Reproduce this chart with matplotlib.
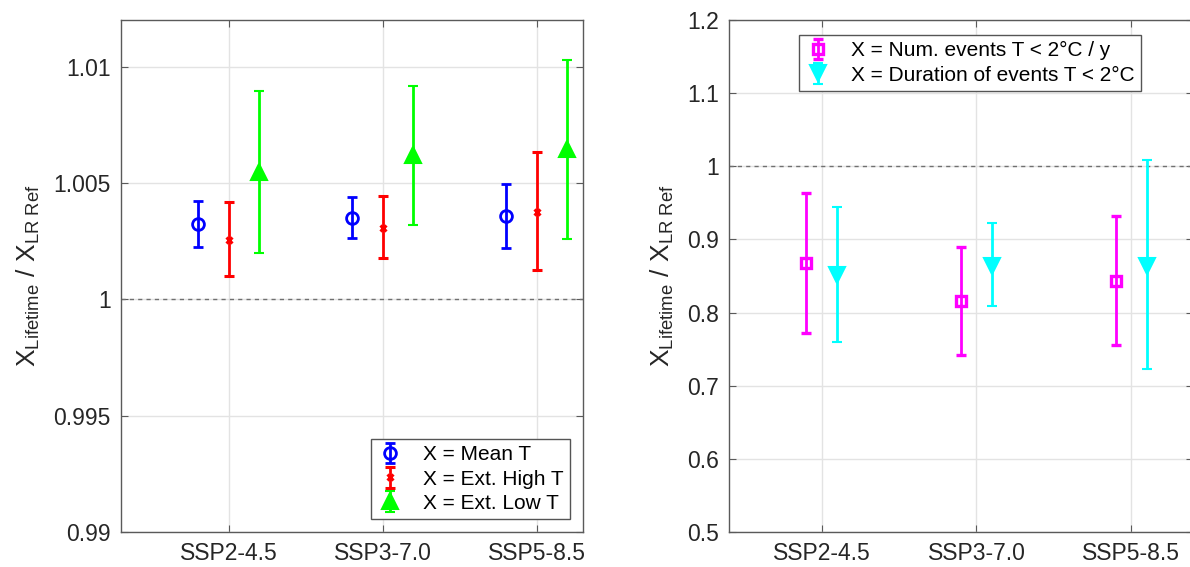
import matplotlib
matplotlib.use("Agg")
import matplotlib.pyplot as plt
from matplotlib.ticker import FuncFormatter
import numpy as np

plt.rcParams['font.family'] = ['Liberation Sans', 'DejaVu Sans']
plt.rcParams['mathtext.fontset'] = 'custom'
plt.rcParams['mathtext.rm'] = 'Liberation Sans'
plt.rcParams['mathtext.it'] = 'Liberation Sans'

scenarios = ["SSP2-4.5", "SSP3-7.0", "SSP5-8.5"]

# Temperature indicators (left panel): central value, lower and upper bound
mean_t = [1.00323, 1.00351, 1.00357]
mean_t_lo = [1.00223, 1.00263, 1.00220]
mean_t_hi = [1.00422, 1.00438, 1.00497]

high_t = [1.00256, 1.00308, 1.00377]
high_t_lo = [1.00098, 1.00176, 1.00124]
high_t_hi = [1.00416, 1.00442, 1.00634]

low_t = [1.00547, 1.00618, 1.00644]
low_t_lo = [1.00197, 1.00321, 1.00259]
low_t_hi = [1.00893, 1.00916, 1.01028]

# Cold-event indicators (right panel)
num_events = [0.868, 0.816, 0.8435]
num_events_lo = [0.7717, 0.7426, 0.7554]
num_events_hi = [0.9636, 0.8895, 0.9314]

duration = [0.851, 0.8638, 0.8638]
duration_lo = [0.760, 0.8094, 0.723]
duration_hi = [0.9445, 0.9222, 1.0091]

W, H = 1190, 567
fig = plt.figure(figsize=(W / 100, H / 100), dpi=100)

ax1 = fig.add_axes([120.7 / W, 35 / H, 462 / W, 512 / H])
ax2 = fig.add_axes([729 / W, 35 / H, 464 / W, 512 / H])

TXT = '#262626'
GRID = '#e3e3e3'
SPINE = '#5a5a5a'


def err(vals, lo, hi):
    v = np.asarray(vals)
    return np.vstack([v - np.asarray(lo), np.asarray(hi) - v])


x = np.arange(1, len(scenarios) + 1)
common = dict(linestyle='none', elinewidth=2.0, capsize=3.8, capthick=2.0)

ax1.errorbar(x - 0.2, mean_t, yerr=err(mean_t, mean_t_lo, mean_t_hi), color='#0000ff',
             marker='o', markersize=8.5, mfc='none', mew=2, label='X = Mean T', **common)
ax1.errorbar(x, high_t, yerr=err(high_t, high_t_lo, high_t_hi), color='#ff0000',
             marker='x', markersize=5, mew=2.2, label='X = Ext. High T', **common)
ax1.errorbar(x + 0.2, low_t, yerr=err(low_t, low_t_lo, low_t_hi), color='#00ff00',
             marker='^', markersize=11.5, mew=1.5, label='X = Ext. Low T', **common)

ax2.errorbar(x - 0.1, num_events, yerr=err(num_events, num_events_lo, num_events_hi),
             color='#ff00ff', marker='s', markersize=7, mfc='none', mew=2.4,
             label='X = Num. events T < 2°C / y', **common)
ax2.errorbar(x + 0.1, duration, yerr=err(duration, duration_lo, duration_hi),
             color='#00ffff', marker='v', markersize=11.5, mew=1.5,
             label='X = Duration of events T < 2°C', **common)

fmt = FuncFormatter(lambda v, p: ('%g' % round(v, 6)))

for ax, ylim, yticks, xlim in [
    (ax1, (0.99, 1.012), [0.99, 0.995, 1.0, 1.005, 1.01], (0.3, 3.3)),
    (ax2, (0.5, 1.2), [0.5, 0.6, 0.7, 0.8, 0.9, 1.0, 1.1, 1.2], (0.4, 3.4)),
]:
    ax.axhline(1.0, color='#707070', linestyle=(0, (3, 3)), linewidth=1.0, zorder=1)
    ax.set_xlim(*xlim)
    ax.set_ylim(*ylim)
    ax.set_yticks(yticks)
    ax.yaxis.set_major_formatter(fmt)
    ax.set_xticks(x)
    ax.set_xticklabels(scenarios)
    ax.grid(True, color=GRID, linewidth=1.0, zorder=0)
    ax.set_axisbelow(True)
    ax.tick_params(direction='in', length=5, width=0.8, colors=SPINE, labelcolor=TXT,
                   labelsize=16.5, top=True, right=True, pad=7)
    for s in ax.spines.values():
        s.set_color(SPINE)
        s.set_linewidth(1.0)
    ax.set_ylabel(r'$\mathregular{X_{Lifetime}}$ / $\mathregular{X_{LR\ Ref}}$',
                  fontsize=19, color=TXT, labelpad=8)

leg1 = ax1.legend(loc='lower right', bbox_to_anchor=(570 / W, 48 / H),
                  bbox_transform=fig.transFigure, fontsize=15, frameon=True,
                  fancybox=False, edgecolor='#555555', framealpha=1,
                  handlelength=1.2, handletextpad=1.0, borderpad=0.3,
                  labelspacing=0.25, borderaxespad=0)
leg1.get_frame().set_linewidth(1.0)
for t in leg1.get_texts():
    t.set_color('black')

leg2 = ax2.legend(loc='upper right', bbox_to_anchor=(1141 / W, (H - 35) / H),
                  bbox_transform=fig.transFigure, fontsize=15, frameon=True,
                  fancybox=False, edgecolor='#555555', framealpha=1,
                  handlelength=1.2, handletextpad=1.0, borderpad=0.3,
                  labelspacing=0.25, borderaxespad=0)
leg2.get_frame().set_linewidth(1.0)
for t in leg2.get_texts():
    t.set_color('black')

fig.savefig('out.png', dpi=100, facecolor='white')
